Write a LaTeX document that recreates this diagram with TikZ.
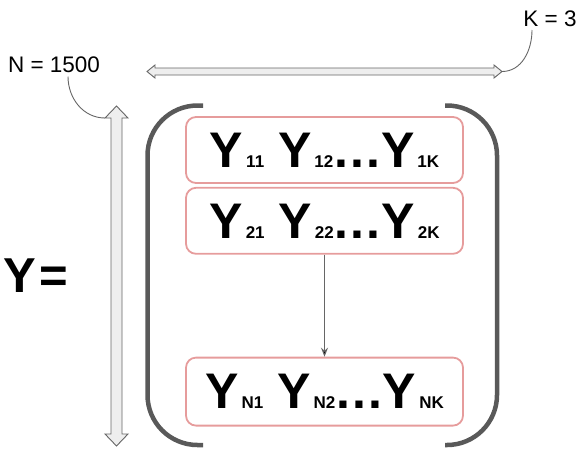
\documentclass[tikz,border=0pt]{standalone}
\usepackage{fontspec}
\setmainfont{Liberation Sans}
\usetikzlibrary{positioning}
\usetikzlibrary{arrows.meta}
\definecolor{rowline}{HTML}{E69C9C}
\definecolor{brackline}{HTML}{595959}
\definecolor{arrline}{HTML}{666666}
\definecolor{arrfill}{HTML}{EEEEEE}
\newcommand\cellY[1]{Y\kern3pt{\fontsize{17}{17}\selectfont #1}}
\newcommand\celldots{\kern1pt.\kern2pt.\kern2pt.\kern1pt}
\tikzset{
>={Stealth[length=9pt,width=7pt]}, % All arrows with stealth tip
my row/.style={draw=rowline,line width=1.8pt,rounded corners=10pt,
  minimum width=277pt,minimum height=66pt,inner sep=0pt,
  font=\fontsize{50}{50}\selectfont\bfseries},
my label/.style={font=\fontsize{22.5}{24}\selectfont},
my big/.style={font=\fontsize{49}{50}\selectfont\bfseries,inner sep=0pt},
bracket/.style={draw=brackline,line width=4.5pt,rounded corners=50pt},
block arrow/.style={draw=arrline,fill=arrfill,line width=0.9pt,line join=miter},
callout/.style={draw=arrline,line width=0.9pt},
link/.style={->,draw=arrline,line width=1pt}
}
\begin{document}
\begin{tikzpicture}[x=1pt,y=-1pt]
\useasboundingbox (0,0) rectangle (585,467);
% rows of the matrix
\node[my row] (r1) at (324.5,150) {\cellY{11} \cellY{12}\celldots\cellY{1K}};
\node[my row,below=3pt of r1] (r2) {\cellY{21} \cellY{22}\celldots\cellY{2K}};
\node[my row,minimum height=68pt,below=102pt of r2] (rn) {\cellY{N1} \cellY{N2}\celldots\cellY{NK}};
\path[link] (r2) edge (rn);
% brackets
\draw[bracket] (203,105.5) -| (147.5,275) |- (203,445);
\draw[bracket] (445,105.5) -| (497,275) |- (445,445);
% size arrows
\draw[block arrow] (116.5,106) -- (128,118) -- (122,118) -- (122,434) -- (128,434) -- (116.5,446)
  -- (105,434) -- (111,434) -- (111,118) -- (105,118) -- cycle;
\draw[block arrow] (147,71.5) -- (155,65) -- (155,68) -- (494,68) -- (494,65) -- (502,71.5)
  -- (494,78) -- (494,75) -- (155,75) -- (155,78) -- cycle;
\coordinate (vhead) at (105,118);
\coordinate (htip) at (502,71.5);
% labels
\node[my big] (y) at (36,275.5) {Y\kern3pt=};
\node[my label] (n) at (54,65) {N = 1500};
\node[my label] (k) at (550,18.5) {K = 3};
\draw[callout] ([xshift=14pt]n.south) to[out=-90,in=180] (vhead);
\draw[callout] ([xshift=-18pt]k.south) to[out=-90,in=0] (htip);
\end{tikzpicture}
\end{document}
